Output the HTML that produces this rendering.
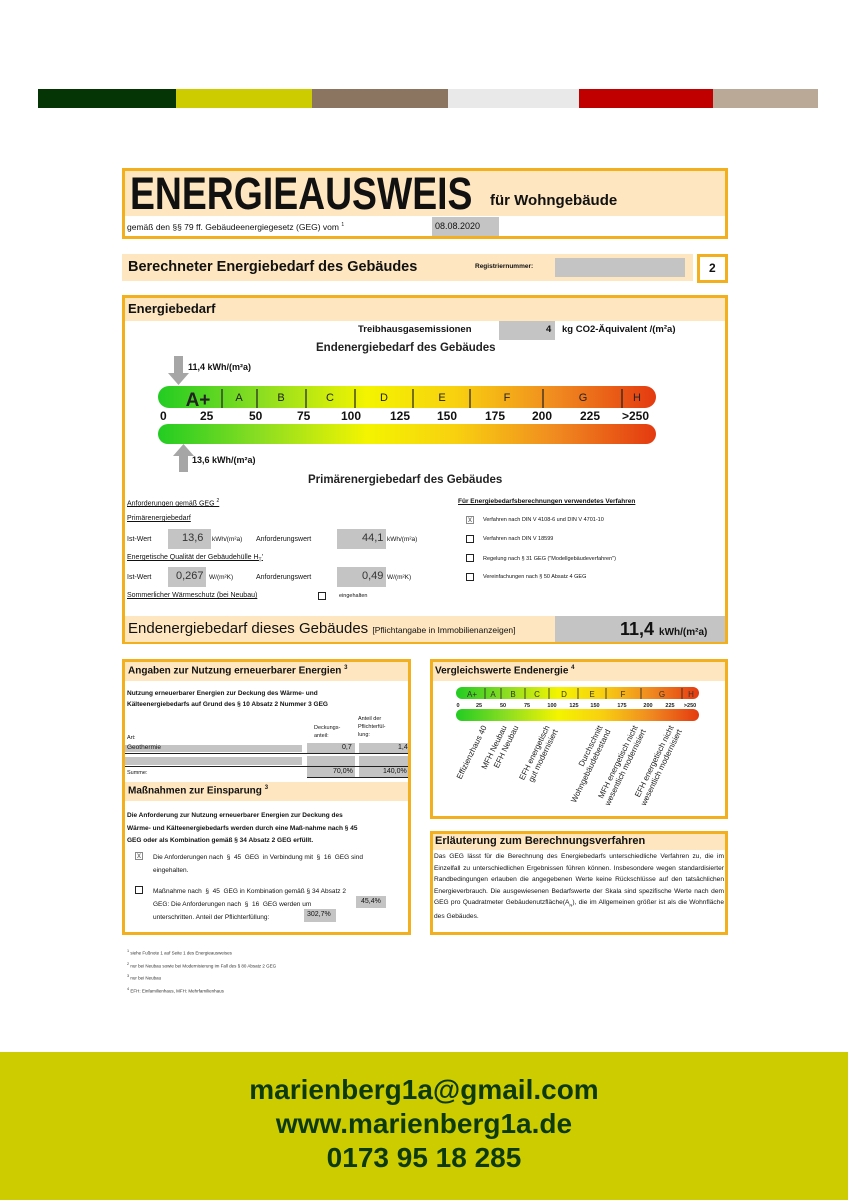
<!DOCTYPE html>
<html><head><meta charset="utf-8">
<style>
*{margin:0;padding:0;box-sizing:border-box}
body{width:848px;height:1200px;position:relative;background:#fff;font-family:"Liberation Sans",Arial,sans-serif;color:#111;overflow:hidden}
.a{position:absolute;white-space:nowrap}
.box{position:absolute;border:3px solid #f2b01e}
.peach{background:#fde6c0}
.gray{position:absolute;background:#c4c4c4}
.b{font-weight:bold}
.cb{position:absolute;width:8px;height:8px;border:1px solid #222;background:#fff;font-size:8px;line-height:6px;text-align:center;color:#555}
.u{text-decoration:underline}
.rl{position:absolute;font-size:8px;line-height:9px;text-align:right;transform-origin:100% 0;transform:rotate(-64deg);white-space:nowrap;color:#222}
</style></head><body>
<!-- top color bar -->
<div class="a" style="left:38px;top:89px;width:138px;height:19px;background:#053505"></div>
<div class="a" style="left:176px;top:89px;width:136px;height:19px;background:#cccc00"></div>
<div class="a" style="left:312px;top:89px;width:136px;height:19px;background:#8c7560"></div>
<div class="a" style="left:448px;top:89px;width:131px;height:19px;background:#e9e9e9"></div>
<div class="a" style="left:579px;top:89px;width:134px;height:19px;background:#c00000"></div>
<div class="a" style="left:713px;top:89px;width:105px;height:19px;background:#b9a996"></div>

<!-- Title -->
<div class="box peach" style="left:122px;top:168px;width:606px;height:71px"></div>
<div class="a" style="left:125px;top:216px;width:600px;height:20px;background:#fff"></div>
<div class="a b" style="left:130px;top:168px;font-size:45px;transform:scaleX(0.83);transform-origin:0 0">ENERGIEAUSWEIS</div>
<div class="a b" style="left:490px;top:192px;font-size:15px">für Wohngebäude</div>
<div class="a" style="left:127px;top:222px;font-size:8.5px">gemäß den §§ 79 ff. Gebäudeenergiegesetz (GEG) vom <sup style="font-size:5px">1</sup></div>
<div class="gray" style="left:432px;top:217px;width:67px;height:19px"></div>
<div class="a" style="left:435px;top:221px;font-size:9px">08.08.2020</div>

<div class="a peach" style="left:122px;top:254px;width:571px;height:27px"></div>
<div class="a b" style="left:128px;top:259px;font-size:14.5px">Berechneter Energiebedarf des Gebäudes</div>
<div class="a b" style="left:475px;top:263px;font-size:6.5px">Registriernummer:</div>
<div class="gray" style="left:555px;top:258px;width:130px;height:19px"></div>
<div class="box" style="left:697px;top:254px;width:31px;height:29px"></div>
<div class="a b" style="left:709px;top:261px;font-size:12px">2</div>

<!-- Energiebedarf box -->
<div class="box" style="left:122px;top:295px;width:606px;height:349px"></div>
<div class="a peach" style="left:125px;top:298px;width:600px;height:23px"></div>
<div class="a b" style="left:128px;top:301px;font-size:13px">Energiebedarf</div>
<div class="a b" style="left:358px;top:324px;font-size:9.5px">Treibhausgasemissionen</div>
<div class="gray" style="left:499px;top:321px;width:56px;height:19px"></div>
<div class="a b" style="left:546px;top:324px;font-size:9.5px">4</div>
<div class="a b" style="left:562px;top:324px;font-size:9.5px">kg CO2-Äquivalent /(m²a)</div>
<div class="a b" style="left:316px;top:342px;font-size:11.5px;color:#222">Endenergiebedarf des Gebäudes</div>
<svg class="a" style="left:168px;top:356px" width="22" height="30"><rect x="6" y="0" width="9" height="18" fill="#a6a6a6"/><polygon points="0,17 21,17 10.5,29" fill="#a6a6a6"/></svg>
<div class="a b" style="left:188px;top:362px;font-size:9px">11,4 kWh/(m²a)</div>
<svg class="a" style="left:158px;top:386px" width="498" height="22">
<defs><linearGradient id="g" x1="0" x2="1"><stop offset="0" stop-color="#22cc22"/><stop offset="0.2" stop-color="#88dd22"/><stop offset="0.42" stop-color="#f4f400"/><stop offset="0.6" stop-color="#f8d010"/><stop offset="0.8" stop-color="#f08a20"/><stop offset="1" stop-color="#e43a10"/></linearGradient></defs>
<rect x="0" y="0" width="498" height="22" rx="11" fill="url(#g)"/>
<g stroke="#222" stroke-width="1.2"><line x1="64" y1="3" x2="64" y2="22"/><line x1="99" y1="3" x2="99" y2="22"/><line x1="148" y1="3" x2="148" y2="22"/><line x1="197" y1="3" x2="197" y2="22"/><line x1="255" y1="3" x2="255" y2="22"/><line x1="312" y1="3" x2="312" y2="22"/><line x1="385" y1="3" x2="385" y2="22"/><line x1="464" y1="3" x2="464" y2="22"/></g>
<g font-family="Liberation Sans" font-size="11" fill="#222" text-anchor="middle"><text x="40" y="20" font-size="19" font-weight="bold">A+</text><text x="81" y="15">A</text><text x="123" y="15">B</text><text x="172" y="15">C</text><text x="226" y="15">D</text><text x="284" y="15">E</text><text x="349" y="15">F</text><text x="425" y="15">G</text><text x="479" y="15">H</text></g>
</svg>
<div class="a b" style="left:0;top:409px;width:848px;font-size:12px;height:14px">
<span class="a" style="left:160px">0</span><span class="a" style="left:200px">25</span><span class="a" style="left:249px">50</span><span class="a" style="left:297px">75</span><span class="a" style="left:341px">100</span><span class="a" style="left:390px">125</span><span class="a" style="left:437px">150</span><span class="a" style="left:485px">175</span><span class="a" style="left:532px">200</span><span class="a" style="left:580px">225</span><span class="a" style="left:622px">&gt;250</span></div>
<svg class="a" style="left:158px;top:424px" width="498" height="20"><rect x="0" y="0" width="498" height="20" rx="10" fill="url(#g)"/></svg>
<svg class="a" style="left:173px;top:444px" width="22" height="28"><polygon points="0,12 21,12 10.5,0" fill="#a6a6a6"/><rect x="6" y="11" width="9" height="17" fill="#a6a6a6"/></svg>
<div class="a b" style="left:192px;top:455px;font-size:9px">13,6 kWh/(m²a)</div>
<div class="a b" style="left:308px;top:474px;font-size:11.5px;color:#222">Primärenergiebedarf des Gebäudes</div>

<div class="a u" style="left:127px;top:498px;font-size:7px">Anforderungen gemäß GEG <sup style="font-size:5px">2</sup></div>
<div class="a u" style="left:127px;top:515px;font-size:7px">Primärenergiebedarf</div>
<div class="a" style="left:127px;top:536px;font-size:7px">Ist-Wert</div>
<div class="gray" style="left:168px;top:529px;width:43px;height:20px"></div>
<div class="a" style="left:182px;top:532px;font-size:11px;color:#333">13,6</div>
<div class="a" style="left:212px;top:536px;font-size:6.5px">kWh/(m²a)</div>
<div class="a" style="left:256px;top:536px;font-size:7px">Anforderungswert</div>
<div class="gray" style="left:337px;top:529px;width:49px;height:20px"></div>
<div class="a" style="left:362px;top:532px;font-size:11px;color:#333">44,1</div>
<div class="a" style="left:387px;top:536px;font-size:6.5px">kWh/(m²a)</div>
<div class="a u" style="left:127px;top:554px;font-size:7px">Energetische Qualität der Gebäudehülle H<sub style="font-size:5px">T</sub>'</div>
<div class="a" style="left:127px;top:574px;font-size:7px">Ist-Wert</div>
<div class="gray" style="left:168px;top:567px;width:38px;height:20px"></div>
<div class="a" style="left:176px;top:570px;font-size:11px;color:#333">0,267</div>
<div class="a" style="left:209px;top:574px;font-size:6.5px">W/(m²K)</div>
<div class="a" style="left:256px;top:574px;font-size:7px">Anforderungswert</div>
<div class="gray" style="left:337px;top:567px;width:49px;height:20px"></div>
<div class="a" style="left:362px;top:570px;font-size:11px;color:#333">0,49</div>
<div class="a" style="left:387px;top:574px;font-size:6.5px">W/(m²K)</div>
<div class="a u" style="left:127px;top:592px;font-size:7px">Sommerlicher Wärmeschutz (bei Neubau)</div>
<div class="cb" style="left:318px;top:592px"></div>
<div class="a" style="left:339px;top:593px;font-size:5.5px">eingehalten</div>

<div class="a u b" style="left:458px;top:498px;font-size:6.5px">Für Energiebedarfsberechnungen verwendetes Verfahren</div>
<div class="cb" style="left:466px;top:516px;border-color:#888">x</div><div class="a" style="left:483px;top:517px;font-size:5.5px">Verfahren nach DIN V 4108-6 und DIN V 4701-10</div>
<div class="cb" style="left:466px;top:535px"></div><div class="a" style="left:483px;top:536px;font-size:5.5px">Verfahren nach DIN V 18599</div>
<div class="cb" style="left:466px;top:554px"></div><div class="a" style="left:483px;top:556px;font-size:5.5px">Regelung nach § 31 GEG ("Modellgebäudeverfahren")</div>
<div class="cb" style="left:466px;top:573px"></div><div class="a" style="left:483px;top:574px;font-size:5.5px">Vereinfachungen nach § 50 Absatz 4 GEG</div>

<div class="a peach" style="left:125px;top:616px;width:430px;height:26px"></div>
<div class="gray" style="left:555px;top:616px;width:170px;height:26px"></div>
<div class="a" style="left:128px;top:620px;font-size:15px">Endenergiebedarf dieses Gebäudes <span style="font-size:8.5px">[Pflichtangabe in Immobilienanzeigen]</span></div>
<div class="a b" style="left:620px;top:619px;font-size:18px">11,4 <span style="font-size:10px">kWh/(m²a)</span></div>

<!-- left bottom box -->
<div class="box" style="left:122px;top:659px;width:289px;height:276px"></div>
<div class="a peach" style="left:125px;top:662px;width:283px;height:19px"></div>
<div class="a b" style="left:128px;top:665px;font-size:10px">Angaben zur Nutzung erneuerbarer Energien <sup style="font-size:6px">3</sup></div>
<div class="a b" style="left:127px;top:688px;font-size:6.5px;line-height:11px">Nutzung erneuerbarer Energien zur Deckung des Wärme- und<br>Kälteenergiebedarfs auf Grund des § 10 Absatz 2 Nummer 3 GEG</div>
<div class="a" style="left:314px;top:724px;font-size:5.5px;line-height:8px">Deckungs-<br>anteil:</div>
<div class="a" style="left:358px;top:715px;font-size:5.5px;line-height:8px">Anteil der<br>Pflichterfül-<br>lung:</div>
<div class="a" style="left:127px;top:735px;font-size:5.5px">Art:</div>
<div class="gray" style="left:125px;top:745px;width:177px;height:7px"></div>
<div class="gray" style="left:307px;top:743px;width:48px;height:10px"></div>
<div class="gray" style="left:359px;top:743px;width:49px;height:10px"></div>
<div class="a" style="left:127px;top:744px;font-size:6.5px">Geothermie</div>
<div class="a" style="left:342px;top:744px;font-size:7px">0,7</div>
<div class="a" style="left:398px;top:744px;font-size:7px">1,4</div>
<div class="a" style="left:125px;top:753px;width:283px;height:1px;background:#222"></div>
<div class="gray" style="left:125px;top:757px;width:177px;height:8px"></div>
<div class="gray" style="left:307px;top:756px;width:48px;height:10px"></div>
<div class="gray" style="left:359px;top:756px;width:49px;height:10px"></div>
<div class="a" style="left:125px;top:766px;width:283px;height:1px;background:#222"></div>
<div class="a" style="left:127px;top:770px;font-size:5.5px">Summe:</div>
<div class="gray" style="left:307px;top:767px;width:48px;height:10px"></div>
<div class="gray" style="left:359px;top:767px;width:49px;height:10px"></div>
<div class="a" style="left:333px;top:768px;font-size:7px">70,0%</div>
<div class="a" style="left:383px;top:768px;font-size:7px">140,0%</div>
<div class="a" style="left:307px;top:777px;width:101px;height:1px;background:#222"></div>
<div class="a peach" style="left:125px;top:782px;width:283px;height:19px"></div>
<div class="a b" style="left:128px;top:785px;font-size:10px">Maßnahmen zur Einsparung <sup style="font-size:6px">3</sup></div>
<div class="a b" style="left:127px;top:810px;font-size:6.5px;line-height:12.5px">Die Anforderung zur Nutzung erneuerbarer Energien zur Deckung des<br>Wärme- und Kälteenergiebedarfs werden durch eine Maß-nahme nach § 45<br>GEG oder als Kombination gemäß § 34 Absatz 2 GEG erfüllt.</div>
<div class="cb" style="left:135px;top:852px;border-color:#888">x</div>
<div class="a" style="left:153px;top:852px;font-size:6.5px;line-height:12.5px">Die Anforderungen nach &nbsp;§ &nbsp;45 &nbsp;GEG &nbsp;in Verbindung mit &nbsp;§ &nbsp;16 &nbsp;GEG sind<br>eingehalten.</div>
<div class="cb" style="left:135px;top:886px"></div>
<div class="a" style="left:153px;top:885px;font-size:6.5px;line-height:13px">Maßnahme nach &nbsp;§ &nbsp;45 &nbsp;GEG in Kombination gemäß § 34 Absatz 2<br>GEG: Die Anforderungen nach &nbsp;§ &nbsp;16 &nbsp;GEG werden um<br>unterschritten. Anteil der Pflichterfüllung:</div>
<div class="gray" style="left:356px;top:896px;width:30px;height:12px"></div>
<div class="a" style="left:361px;top:898px;font-size:7px">45,4%</div>
<div class="gray" style="left:304px;top:909px;width:32px;height:13px"></div>
<div class="a" style="left:307px;top:911px;font-size:7px">302,7%</div>

<div class="a" style="left:127px;top:946px;font-size:4.5px;line-height:11px;color:#333"><sup>1</sup> siehe Fußnote 1 auf Seite 1 des Energieausweises<br><sup>2</sup> nur bei Neubau sowie bei Modernisierung im Fall des § 80 Absatz 2 GEG<br><sup>3</sup> nur bei Neubau<br><sup>4</sup> EFH: Einfamilienhaus, MFH: Mehrfamilienhaus</div>

<!-- right top box -->
<div class="box" style="left:430px;top:659px;width:298px;height:160px"></div>
<div class="a peach" style="left:433px;top:662px;width:292px;height:19px"></div>
<div class="a b" style="left:435px;top:665px;font-size:10px">Vergleichswerte Endenergie <sup style="font-size:6px">4</sup></div>
<svg class="a" style="left:456px;top:687px" width="243" height="12">
<defs><linearGradient id="g2" x1="0" x2="1"><stop offset="0" stop-color="#22cc22"/><stop offset="0.2" stop-color="#88dd22"/><stop offset="0.42" stop-color="#f4f400"/><stop offset="0.6" stop-color="#f8d010"/><stop offset="0.8" stop-color="#f08a20"/><stop offset="1" stop-color="#e43a10"/></linearGradient></defs>
<rect width="243" height="12" rx="6" fill="url(#g2)"/>
<g stroke="#222" stroke-width="0.8"><line x1="29" y1="1" x2="29" y2="12"/><line x1="45" y1="1" x2="45" y2="12"/><line x1="69" y1="1" x2="69" y2="12"/><line x1="93" y1="1" x2="93" y2="12"/><line x1="122" y1="1" x2="122" y2="12"/><line x1="150" y1="1" x2="150" y2="12"/><line x1="185" y1="1" x2="185" y2="12"/><line x1="226" y1="1" x2="226" y2="12"/></g>
<g font-family="Liberation Sans" font-size="8" fill="#333" text-anchor="middle"><text x="16" y="10">A+</text><text x="37" y="10">A</text><text x="57" y="10">B</text><text x="81" y="10">C</text><text x="108" y="10">D</text><text x="136" y="10">E</text><text x="167" y="10">F</text><text x="206" y="10">G</text><text x="235" y="10">H</text></g></svg>
<svg class="a" style="left:456px;top:700px" width="245" height="9"><g font-family="Liberation Sans" font-size="5.5" font-weight="bold" fill="#222" text-anchor="middle"><text x="2" y="7">0</text><text x="23" y="7">25</text><text x="47" y="7">50</text><text x="71" y="7">75</text><text x="96" y="7">100</text><text x="118" y="7">125</text><text x="139" y="7">150</text><text x="166" y="7">175</text><text x="192" y="7">200</text><text x="214" y="7">225</text><text x="234" y="7">&gt;250</text></g></svg>
<svg class="a" style="left:456px;top:709px" width="243" height="12"><rect width="243" height="12" rx="6" fill="url(#g2)"/></svg>
<div class="rl" style="right:367px;top:724px">Effizienzhaus 40</div>
<div class="rl" style="right:347px;top:724px">MFH Neubau</div>
<div class="rl" style="right:336px;top:724px">EFH Neubau</div>
<div class="rl" style="right:304px;top:724px">EFH energetisch<br>gut modernisiert</div>
<div class="rl" style="right:252px;top:724px">Durchschnitt<br>Wohngebäudebestand</div>
<div class="rl" style="right:216px;top:724px">MFH energetisch nicht<br>wesentlich modernisiert</div>
<div class="rl" style="right:180px;top:724px">EFH energetisch nicht<br>wesentlich modernisiert</div>

<!-- right bottom box -->
<div class="box" style="left:430px;top:831px;width:298px;height:104px"></div>
<div class="a peach" style="left:433px;top:834px;width:292px;height:16px"></div>
<div class="a b" style="left:435px;top:835px;font-size:11px">Erläuterung zum Berechnungsverfahren</div>
<div class="a" style="left:434px;top:851px;width:290px;font-size:6.6px;line-height:11.5px;white-space:normal;text-align:justify">Das GEG lässt für die Berechnung des Energiebedarfs unterschiedliche Verfahren zu, die im Einzelfall zu unterschiedlichen Ergebnissen führen können. Insbesondere wegen standardisierter Randbedingungen erlauben die angegebenen Werte keine Rückschlüsse auf den tatsächlichen Energieverbrauch. Die ausgewiesenen Bedarfswerte der Skala sind spezifische Werte nach dem GEG pro Quadratmeter Gebäudenutzfläche(A<sub style="font-size:4px">N</sub>), die im Allgemeinen größer ist als die Wohnfläche des Gebäudes.</div>

<!-- bottom band -->
<div class="a" style="left:0;top:1052px;width:848px;height:148px;background:#cccc00"></div>
<div class="a b" style="left:0;top:1073px;width:848px;text-align:center;font-size:28px;line-height:34px;color:#0d3a0d">marienberg1a@gmail.com<br>www.marienberg1a.de<br>0173 95 18 285</div>
</body></html>
